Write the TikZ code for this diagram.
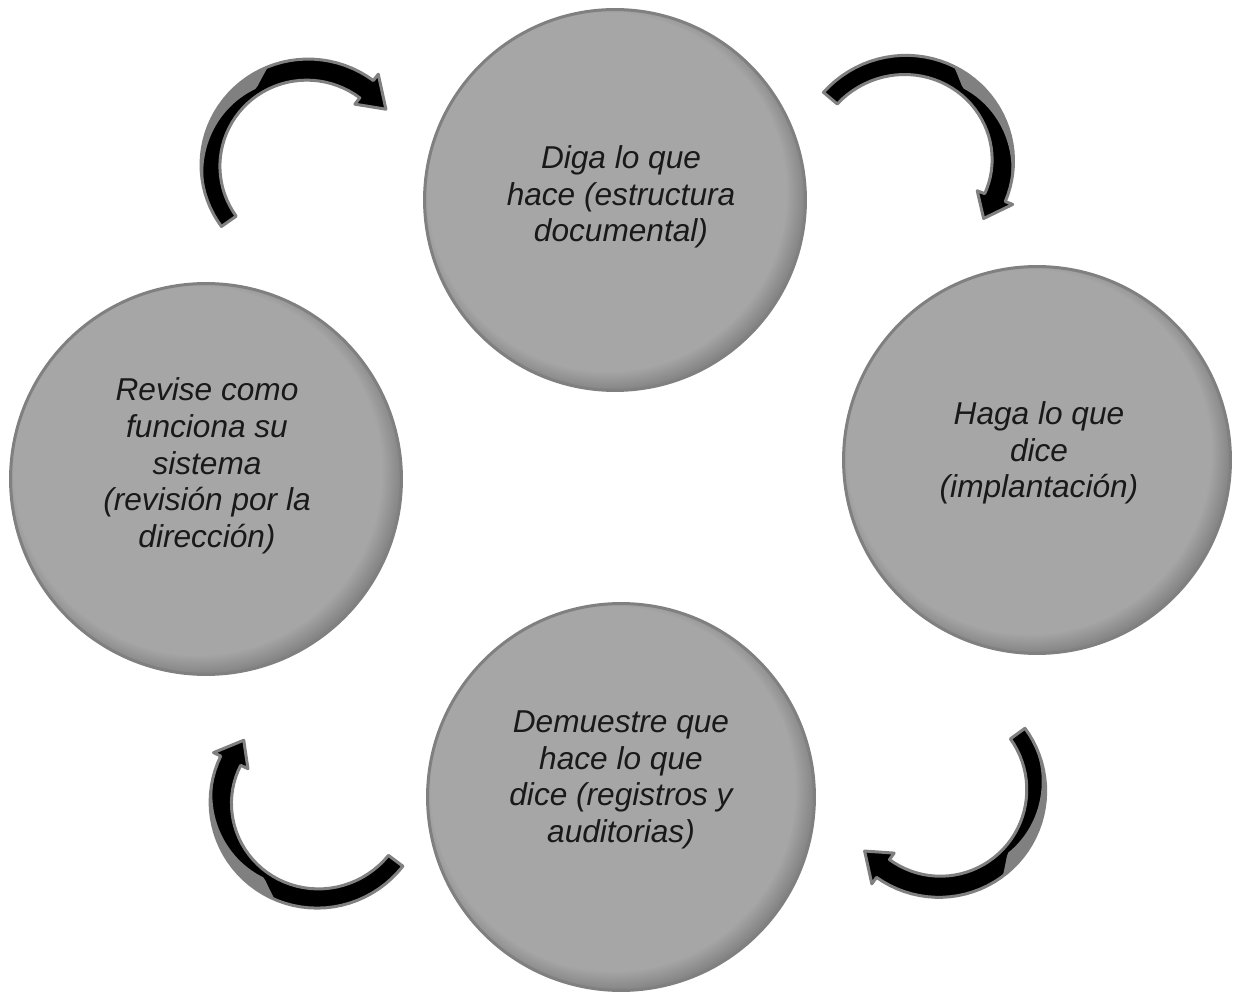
\documentclass[tikz,border=0pt]{standalone}
\usepackage{fontspec}
\setmainfont{Liberation Sans}

\definecolor{discgray}{HTML}{A6A6A6}
\definecolor{discdark}{HTML}{767676}
\definecolor{rimgray}{HTML}{808080}
\pgfdeclareradialshading{discshade}{\pgfpoint{-2bp}{2bp}}{color(0bp)=(discgray); color(23.5bp)=(discgray); color(27bp)=(discdark); color(50bp)=(discdark)}

% curved block arrow: centre, tail angle, head angle, tip angle, radius tail/head, twist angle, twist end
\newcommand{\cyclearrow}[9]{%
  \begin{scope}[declare function={arcr(\t)=#6+(#7-#6)*(\t-(#3))/((#4)-(#3));
                                  arcw(\t)=18+4*(\t-(#3))/((#4)-(#3));
                                  tws(\t)=(\t-(#8))/((#9)-(#8));
                                  twb(\t)=17*max(0,1-tws(\t))*sqrt(max(0,1-tws(\t)))*min(1,max(0,tws(\t))/0.12);}]
  \filldraw[arrow body]
    plot[domain=#3:#4,samples=40] ({#1+(arcr(\x)+arcw(\x)/2)*cos(\x)},{#2+(arcr(\x)+arcw(\x)/2)*sin(\x)})
    -- ({#1+(#7+19)*cos(#4)},{#2+(#7+19)*sin(#4)})
    -- ({#1+#7*cos(#5)},{#2+#7*sin(#5)})
    -- ({#1+(#7-19)*cos(#4)},{#2+(#7-19)*sin(#4)})
    -- plot[domain=#4:#3,samples=40] ({#1+(arcr(\x)-arcw(\x)/2)*cos(\x)},{#2+(arcr(\x)-arcw(\x)/2)*sin(\x)})
    -- cycle;
  \fill[rimgray]
    plot[domain=#8:#9,samples=40] ({#1+(arcr(\x)+arcw(\x)/2)*cos(\x)},{#2+(arcr(\x)+arcw(\x)/2)*sin(\x)})
    -- plot[domain=#9:#8,samples=40] ({#1+(arcr(\x)+arcw(\x)/2-twb(\x))*cos(\x)},{#2+(arcr(\x)+arcw(\x)/2-twb(\x))*sin(\x)})
    -- cycle;
  \end{scope}}

\begin{document}
\begin{tikzpicture}[x=0.02cm,y=0.02cm,
                main node/.style={circle,draw=rimgray,line width=0.06cm,shading=discshade,inner sep=0pt},
                text node/.style={align=center,text=black!90,font=\itshape\fontsize{18}{20.9}\selectfont},
                arrow body/.style={fill=black,draw=rimgray,line width=0.06cm,line join=round}]
                \useasboundingbox (0,0) rectangle (1234,-999);

                \node[main node,minimum size=7.62cm] (0) at (615,-200) {};
                \node[main node,minimum size=7.74cm] (1) at (1037,-460) {};
                \node[main node,minimum size=7.74cm] (2) at (621,-797) {};
                \node[main node,minimum size=7.82cm] (3) at (206,-479) {};

                \node[text node] (t0) at (621,-197) {Diga lo que\\hace (estructura\\documental)};
                \node[text node] (t1) at (1039,-453) {Haga lo que\\dice\\(implantación)};
                \node[text node] (t2) at (621,-780) {Demuestre que\\hace lo que\\dice (registros y\\auditorias)};
                \node[text node] (t3) at (207,-466) {Revise como\\funciona su\\sistema\\(revisión por la\\dirección)};

                \cyclearrow{305}{-168}{215}{52}{36}{93}{100}{110}{205}
                \cyclearrow{910}{-165}{140}{-21}{-36}{104}{91}{66}{-21}
                \cyclearrow{940}{-790}{36}{-126}{-141}{96}{97}{-54}{36}
                \cyclearrow{315}{-800}{-37}{-205}{-220}{101}{93}{-112}{-205}
\end{tikzpicture}
\end{document}
